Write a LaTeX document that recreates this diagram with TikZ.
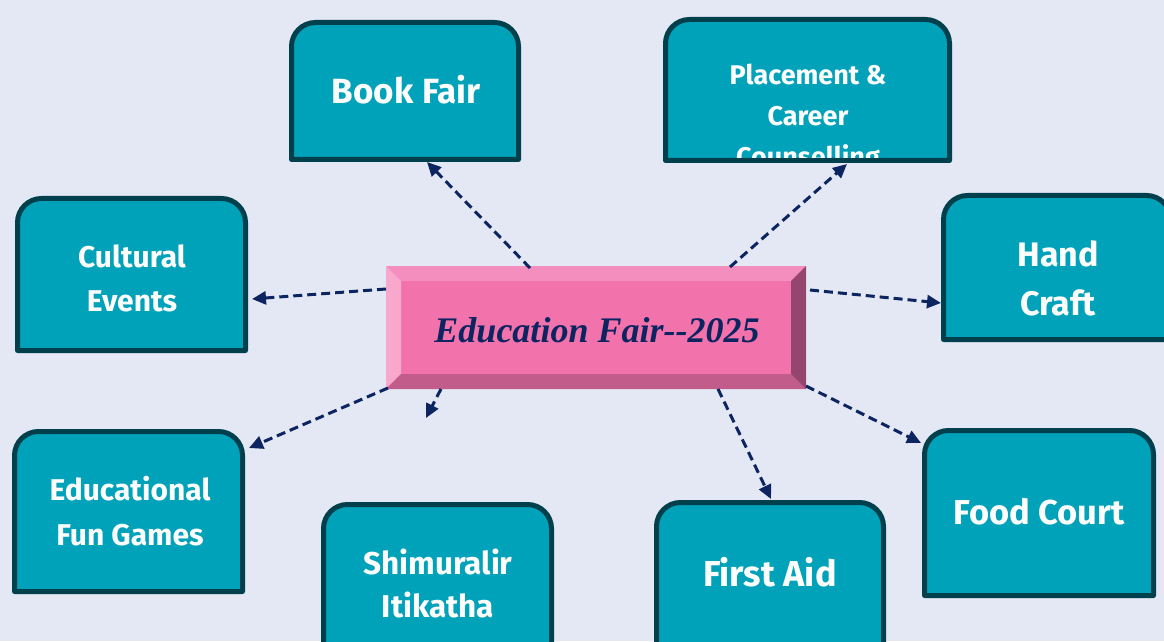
\documentclass[tikz,border=0pt]{standalone}
\usepackage{fontspec}
\setmainfont{Fira Sans}
\newfontfamily\titlefont{Liberation Serif}
\usetikzlibrary{arrows.meta}
\definecolor{bgc}{RGB}{228,232,244}
\definecolor{tealfill}{RGB}{0,162,185}
\definecolor{tealline}{RGB}{0,64,76}
\definecolor{navy}{RGB}{12,36,96}
\definecolor{pinkface}{RGB}{242,114,172}
\definecolor{pinktop}{RGB}{244,142,190}
\definecolor{pinkleft}{RGB}{248,168,204}
\definecolor{pinkbottom}{RGB}{194,92,138}
\definecolor{pinkright}{RGB}{149,70,112}
\tikzset{
  boxnode/.style={inner sep=0pt, outer sep=0pt, draw=none},
  tealshape/.style={fill=tealfill, draw=tealline, line width=5pt, line join=round},
  boxtext/.style={text=white, font=\bfseries, align=center, inner sep=0pt},
  arr/.style={draw=navy, line width=3pt, dash pattern=on 9pt off 5pt,
    -{Triangle[length=14pt,width=13pt]}},
}
\newcommand{\tealbox}[1]{%
  \filldraw[tealshape] (#1.south west) -- ([yshift=-24]#1.north west)
    arc[start angle=180, end angle=90, radius=24]
    -- ([xshift=-24]#1.north east)
    arc[start angle=90, end angle=0, radius=24]
    -- (#1.south east) -- cycle;}
\begin{document}
\begin{tikzpicture}[x=1pt, y=1pt]
\useasboundingbox (0,0) rectangle (1164,641);
\clip (0,0) rectangle (1164,641);
\fill[bgc] (0,0) rectangle (1164,641);

% teal boxes
\node[boxnode, minimum width=227, minimum height=137] (book) at (405,550) {};
\tealbox{book}
\node[boxnode, minimum width=284, minimum height=141] (place) at (807.5,551) {};
\tealbox{place}
\node[boxnode, minimum width=228, minimum height=152] (cult) at (131.5,366.5) {};
\tealbox{cult}
\node[boxnode, minimum width=227, minimum height=144] (hand) at (1057,373.5) {};
\tealbox{hand}
\node[boxnode, minimum width=228, minimum height=160] (games) at (128.5,129.5) {};
\tealbox{games}
\node[boxnode, minimum width=228, minimum height=160] (shim) at (437.5,56.5) {};
\tealbox{shim}
\node[boxnode, minimum width=227, minimum height=162] (first) at (770,57.5) {};
\tealbox{first}
\node[boxnode, minimum width=229, minimum height=165] (food) at (1039,128) {};
\tealbox{food}

% box texts
\node[boxtext, font=\bfseries\fontsize{35}{40}\selectfont] (bookt) at (406,551) {Book Fair};
\begin{scope}
  \clip ([yshift=2.5]place.south west) rectangle (place.north east);
  \node[boxtext, font=\bfseries\fontsize{27}{41}\selectfont] (placet) at (808,523) {Placement \&\\Career\\Counselling};
\end{scope}
\node[boxtext, font=\bfseries\fontsize{30}{44}\selectfont] (cultt) at (132,363) {Cultural\\Events};
\node[boxtext, font=\bfseries\fontsize{34}{49}\selectfont] (handt) at (1058,362.5) {Hand\\Craft};
\node[boxtext, font=\bfseries\fontsize{30}{45}\selectfont] (gamest) at (130,129.5) {Educational\\Fun Games};
\node[boxtext, font=\bfseries\fontsize{31.5}{43}\selectfont] (shimt) at (438,57.5) {Shimuralir\\Itikatha};
\node[boxtext, font=\bfseries\fontsize{36}{40}\selectfont] (firstt) at (770,69) {First Aid};
\node[boxtext, font=\bfseries\fontsize{34.5}{40}\selectfont] (foodt) at (1039,129) {Food Court};

% central bevelled box
\node[boxnode, minimum width=420, minimum height=123] (edu) at (596,313.5) {};
\fill[pinkface] (edu.south west) rectangle (edu.north east);
\fill[pinktop] (edu.north west) -- (edu.north east) -- ([shift={(-15,-15)}]edu.north east) -- ([shift={(15,-15)}]edu.north west) -- cycle;
\fill[pinkleft] (edu.north west) -- (edu.south west) -- ([shift={(15,15)}]edu.south west) -- ([shift={(15,-15)}]edu.north west) -- cycle;
\fill[pinkbottom] (edu.south west) -- (edu.south east) -- ([shift={(-15,15)}]edu.south east) -- ([shift={(15,15)}]edu.south west) -- cycle;
\fill[pinkright] (edu.south east) -- (edu.north east) -- ([shift={(-15,-15)}]edu.north east) -- ([shift={(-15,15)}]edu.south east) -- cycle;
\node[text=navy, inner sep=0pt, font=\titlefont\bfseries\itshape\fontsize{36}{40}\selectfont] (edut) at (597,311) {Education Fair-{}-2025};

% connectors
\coordinate (shimtip) at (426,223);
\draw[arr] ([shift={(144,-2)}]edu.north west) -- ([shift={(135.5,-2.5)}]book.south west);
\draw[arr] ([shift={(344,-1)}]edu.north west) -- ([shift={(181.5,-3.5)}]place.south west);
\draw[arr] ([shift={(0,-23)}]edu.north west) -- ([shift={(6.5,51.5)}]cult.south east);
\draw[arr] ([shift={(4,-24)}]edu.north east) -- ([shift={(-2.5,36.5)}]hand.south west);
\draw[arr] ([shift={(2,1)}]edu.south west) -- ([shift={(6.5,-16.5)}]games.north east);
\draw[arr] ([shift={(55,0)}]edu.south west) -- (shimtip);
\draw[arr] ([shift={(332,0)}]edu.south west) -- ([shift={(114.5,3.5)}]first.north west);
\draw[arr] ([shift={(0,3)}]edu.south east) -- ([shift={(-3.5,-12.5)}]food.north west);
\end{tikzpicture}
\end{document}
